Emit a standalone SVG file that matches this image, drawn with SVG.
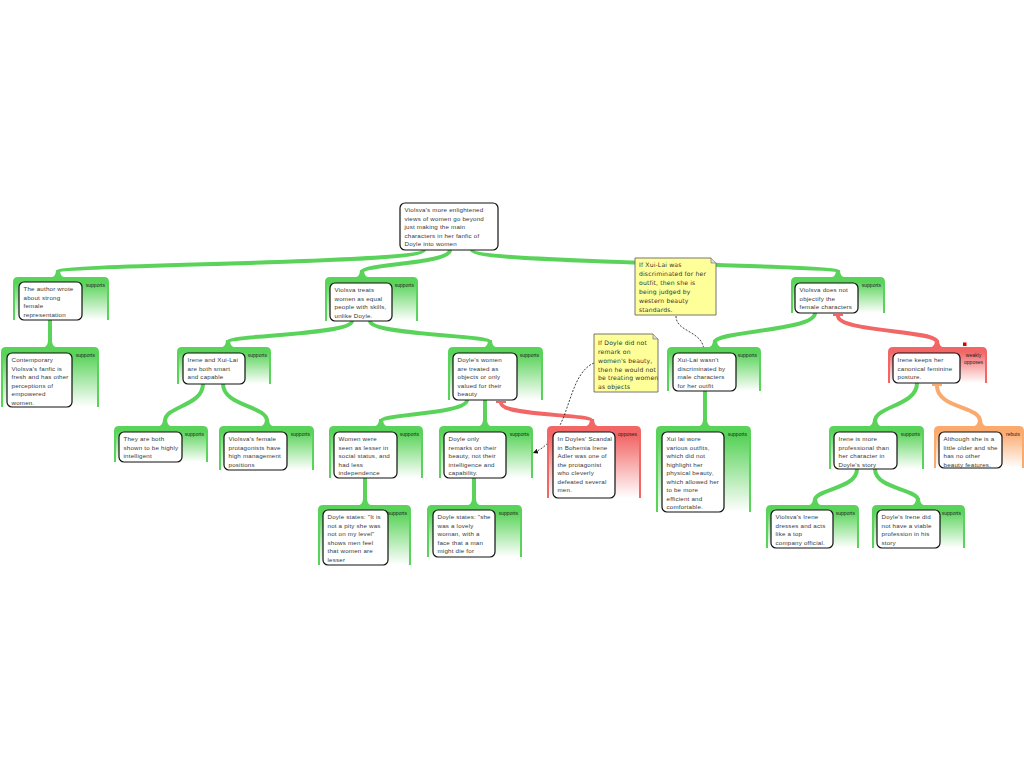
<svg xmlns="http://www.w3.org/2000/svg" width="1024" height="768" viewBox="0 0 1024 768">
<style>
.t{font-family:'Liberation Sans',Arial,sans-serif;font-size:6.2px;fill:#383838;letter-spacing:0.2px}
.nt{font-family:'DejaVu Sans',sans-serif;font-size:6.1px;fill:#333;letter-spacing:0.15px}
.lbl{font-family:'Liberation Sans',Arial,sans-serif;font-size:5px;fill:#222;text-anchor:end}
.box{fill:#fff;stroke:#111;stroke-width:1.2}
.pg{fill:url(#gG);stroke:#5ad35a;stroke-width:2}
.pr{fill:url(#gR);stroke:#f26666;stroke-width:2}
.po{fill:url(#gO);stroke:#fbaa6e;stroke-width:2}
.cg{fill:none;stroke:#5ad35a;stroke-width:4}
.cr{fill:none;stroke:#f26666;stroke-width:4}
.co{fill:none;stroke:#fbaa6e;stroke-width:4}
.fg{fill:#5ad35a}.fr{fill:#f26666}.fo{fill:#fbaa6e}
.tbr{stroke:#f26666;stroke-width:2}.tbo{stroke:#fbaa6e;stroke-width:2}
.dash{fill:none;stroke:#111;stroke-width:0.8;stroke-dasharray:2,1.5}
.note{fill:#ffff99;stroke:#666;stroke-width:0.9}
</style>
<defs>
<linearGradient id="gG" x1="0" y1="0" x2="0" y2="1"><stop offset="0" stop-color="#5ad35a"/><stop offset="0.12" stop-color="#5ad35a"/><stop offset="1" stop-color="#fff"/></linearGradient>
<linearGradient id="gR" x1="0" y1="0" x2="0" y2="1"><stop offset="0" stop-color="#f26666"/><stop offset="0.12" stop-color="#f26666"/><stop offset="1" stop-color="#fff"/></linearGradient>
<linearGradient id="gO" x1="0" y1="0" x2="0" y2="1"><stop offset="0" stop-color="#fbaa6e"/><stop offset="0.12" stop-color="#fbaa6e"/><stop offset="1" stop-color="#fff"/></linearGradient>
<marker id="arr" viewBox="0 0 6 6" refX="6" refY="3" markerWidth="5" markerHeight="5" markerUnits="userSpaceOnUse" orient="auto"><path d="M0,0 L6,3 L0,6 z" fill="#111"/></marker>
</defs>
<rect width="1024" height="768" fill="#fff"/>

<g id="connectors">
<path class="cg" d="M424,250 C424,264 58,264 58,272"/><path class="fg" d="M47,278 C54,278 56,275 56,270 L60,270 C60,275 62,278 69,278 Z"/>
<path class="cg" d="M450,250 C450,264 362,264 362,272"/><path class="fg" d="M351,278 C358,278 360,275 360,270 L364,270 C364,275 366,278 373,278 Z"/>
<path class="cg" d="M472,250 C472,264 838,264 838,272"/><path class="fg" d="M827,278 C834,278 836,275 836,270 L840,270 C840,275 842,278 849,278 Z"/>
<path class="cg" d="M50,320 L50,344"/><path class="fg" d="M39,348 C46,348 48,345 48,340 L52,340 C52,345 54,348 61,348 Z"/>
<path class="cg" d="M352,321 C352,335 228,335 228,342"/><path class="fg" d="M217,348 C224,348 226,345 226,340 L230,340 C230,345 232,348 239,348 Z"/>
<path class="cg" d="M370,321 C370,335 490,335 490,342"/><path class="fg" d="M479,348 C486,348 488,345 488,340 L492,340 C492,345 494,348 501,348 Z"/>
<path class="cg" d="M203,384 C203,406 165,406 165,421"/><path class="fg" d="M154,427 C161,427 163,424 163,419 L167,419 C167,424 169,427 176,427 Z"/>
<path class="cg" d="M223,384 C223,406 267,406 267,421"/><path class="fg" d="M256,427 C263,427 265,424 265,419 L269,419 C269,424 271,427 278,427 Z"/>
<path class="cg" d="M467,400 C467,414 381,414 381,421"/><path class="fg" d="M370,427 C377,427 379,424 379,419 L383,419 C383,424 385,427 392,427 Z"/>
<path class="cg" d="M485,400 L485,423"/><path class="fg" d="M474,427 C481,427 483,424 483,419 L487,419 C487,424 489,427 496,427 Z"/>
<line class="tbr" x1="496" y1="402" x2="506" y2="402"/>
<path class="cr" d="M501,403 C501,416 592,414 592,421"/><path class="fr" d="M581,427 C588,427 590,424 590,419 L594,419 C594,424 596,427 603,427 Z"/>
<path class="cg" d="M365,478 L365,502"/><path class="fg" d="M354,506 C361,506 363,503 363,498 L367,498 C367,503 369,506 376,506 Z"/>
<path class="cg" d="M474,478 L474,502"/><path class="fg" d="M463,506 C470,506 472,503 472,498 L476,498 C476,503 478,506 485,506 Z"/>
<path class="cg" d="M815,313 C815,331 715,331 715,342"/><path class="fg" d="M704,348 C711,348 713,345 713,340 L717,340 C717,345 719,348 726,348 Z"/>
<line class="tbr" x1="833" y1="315" x2="843" y2="315"/>
<path class="cr" d="M838,316 C838,332 937,330 937,342"/><path class="fr" d="M926,348 C933,348 935,345 935,340 L939,340 C939,345 941,348 948,348 Z"/>
<path class="cg" d="M705,391 L705,423"/><path class="fg" d="M694,427 C701,427 703,424 703,419 L707,419 C707,424 709,427 716,427 Z"/>
<path class="cg" d="M917,383 C917,406 875,406 875,421"/><path class="fg" d="M864,427 C871,427 873,424 873,419 L877,419 C877,424 879,427 886,427 Z"/>
<line class="tbo" x1="932" y1="385" x2="942" y2="385"/>
<path class="co" d="M937,386 C937,408 980,406 980,421"/><path class="fo" d="M969,427 C976,427 978,424 978,419 L982,419 C982,424 984,427 991,427 Z"/>
<path class="cg" d="M857,469 C857,489 815,489 815,500"/><path class="fg" d="M804,506 C811,506 813,503 813,498 L817,498 C817,503 819,506 826,506 Z"/>
<path class="cg" d="M875,469 C875,489 918,489 918,500"/><path class="fg" d="M907,506 C914,506 916,503 916,498 L920,498 C920,503 922,506 929,506 Z"/>
<path class="dash" d="M676,316 C676,333 704,330 704,352" marker-end="url(#arr)"/>
<path class="dash" d="M594,363 C572,372 570,412 556,432 C550,442 543,449 533,453" marker-end="url(#arr)"/>
</g>

<g id="n_root">
<rect class="box" x="400" y="203" width="98" height="47" rx="5"/>
<text class="t" x="404.5" y="212.2">Violsva's more enlightened</text>
<text class="t" x="404.5" y="220.7">views of women go beyond</text>
<text class="t" x="404.5" y="229.2">just making the main</text>
<text class="t" x="404.5" y="237.7">characters in her fanfic of</text>
<text class="t" x="404.5" y="246.2">Doyle into women</text>
</g>

<g id="n_author">
<path class="pg" d="M14,320 V282 Q14,278 18,278 H104 Q108,278 108,282 V320"/>
<text class="lbl" x="105" y="287">supports</text>
<rect class="box" x="19" y="282" width="63" height="38" rx="5"/>
<text class="t" x="23.5" y="291.2">The author wrote</text>
<text class="t" x="23.5" y="299.7">about strong</text>
<text class="t" x="23.5" y="308.2">female</text>
<text class="t" x="23.5" y="316.7">representation</text>
</g>

<g id="n_contemp">
<path class="pg" d="M2,407 V352 Q2,348 6,348 H94 Q98,348 98,352 V407"/>
<text class="lbl" x="95" y="357">supports</text>
<rect class="box" x="7" y="353" width="65" height="54" rx="5"/>
<text class="t" x="11.5" y="362.2">Contemporary</text>
<text class="t" x="11.5" y="370.7">Violsva's fanfic is</text>
<text class="t" x="11.5" y="379.2">fresh and has other</text>
<text class="t" x="11.5" y="387.7">perceptions of</text>
<text class="t" x="11.5" y="396.2">empowered</text>
<text class="t" x="11.5" y="404.7">women.</text>
</g>

<g id="n_treats">
<path class="pg" d="M326,321 V282 Q326,278 330,278 H413 Q417,278 417,282 V321"/>
<text class="lbl" x="414" y="287">supports</text>
<rect class="box" x="330" y="283" width="62" height="38" rx="5"/>
<text class="t" x="334.5" y="292.2">Violsva treats</text>
<text class="t" x="334.5" y="300.7">women as equal</text>
<text class="t" x="334.5" y="309.2">people with skills,</text>
<text class="t" x="334.5" y="317.7">unlike Doyle.</text>
</g>

<g id="n_irene_xui">
<path class="pg" d="M178,384 V352 Q178,348 182,348 H266 Q270,348 270,352 V384"/>
<text class="lbl" x="267" y="357">supports</text>
<rect class="box" x="183" y="353" width="62" height="31" rx="5"/>
<text class="t" x="187.5" y="362.2">Irene and Xui-Lai</text>
<text class="t" x="187.5" y="370.7">are both smart</text>
<text class="t" x="187.5" y="379.2">and capable</text>
</g>

<g id="n_both">
<path class="pg" d="M115,462 V431 Q115,427 119,427 H203 Q207,427 207,431 V462"/>
<text class="lbl" x="204" y="436">supports</text>
<rect class="box" x="119" y="432" width="63" height="30" rx="5"/>
<text class="t" x="123.5" y="441.2">They are both</text>
<text class="t" x="123.5" y="449.7">shown to be highly</text>
<text class="t" x="123.5" y="458.2">intelligent</text>
</g>

<g id="n_female">
<path class="pg" d="M220,470 V431 Q220,427 224,427 H309 Q313,427 313,431 V470"/>
<text class="lbl" x="310" y="436">supports</text>
<rect class="box" x="224" y="432" width="63" height="38" rx="5"/>
<text class="t" x="228.5" y="441.2">Violsva's female</text>
<text class="t" x="228.5" y="449.7">protagonists have</text>
<text class="t" x="228.5" y="458.2">high management</text>
<text class="t" x="228.5" y="466.7">positions</text>
</g>

<g id="n_doyle_women">
<path class="pg" d="M449,400 V352 Q449,348 453,348 H538 Q542,348 542,352 V400"/>
<text class="lbl" x="539" y="357">supports</text>
<rect class="box" x="453" y="353" width="64" height="47" rx="5"/>
<text class="t" x="457.5" y="362.2">Doyle's women</text>
<text class="t" x="457.5" y="370.7">are treated as</text>
<text class="t" x="457.5" y="379.2">objects or only</text>
<text class="t" x="457.5" y="387.7">valued for their</text>
<text class="t" x="457.5" y="396.2">beauty</text>
</g>

<g id="n_women_were">
<path class="pg" d="M330,478 V431 Q330,427 334,427 H418 Q422,427 422,431 V478"/>
<text class="lbl" x="419" y="436">supports</text>
<rect class="box" x="334" y="432" width="63" height="46" rx="5"/>
<text class="t" x="338.5" y="441.2">Women were</text>
<text class="t" x="338.5" y="449.7">seen as lesser in</text>
<text class="t" x="338.5" y="458.2">social status, and</text>
<text class="t" x="338.5" y="466.7">had less</text>
<text class="t" x="338.5" y="475.2">independence</text>
</g>

<g id="n_doyle_only">
<path class="pg" d="M440,478 V431 Q440,427 444,427 H528 Q532,427 532,431 V478"/>
<text class="lbl" x="529" y="436">supports</text>
<rect class="box" x="444" y="432" width="62" height="46" rx="5"/>
<text class="t" x="448.5" y="441.2">Doyle only</text>
<text class="t" x="448.5" y="449.7">remarks on their</text>
<text class="t" x="448.5" y="458.2">beauty, not their</text>
<text class="t" x="448.5" y="466.7">intelligence and</text>
<text class="t" x="448.5" y="475.2">capability.</text>
</g>

<g id="n_scandal">
<path class="pr" d="M548,498 V431 Q548,427 552,427 H636 Q640,427 640,431 V498"/>
<text class="lbl" x="637" y="436">opposes</text>
<rect class="box" x="553" y="432" width="62" height="66" rx="5"/>
<text class="t" x="557.5" y="441.2">In Doyles' Scandal</text>
<text class="t" x="557.5" y="449.7">in Bohemia Irene</text>
<text class="t" x="557.5" y="458.2">Adler was one of</text>
<text class="t" x="557.5" y="466.7">the protagonist</text>
<text class="t" x="557.5" y="475.2">who cleverly</text>
<text class="t" x="557.5" y="483.7">defeated several</text>
<text class="t" x="557.5" y="492.2">men.</text>
</g>

<g id="n_states1">
<path class="pg" d="M319,565 V510 Q319,506 323,506 H406 Q410,506 410,510 V565"/>
<text class="lbl" x="407" y="515">supports</text>
<rect class="box" x="323" y="510" width="65" height="55" rx="5"/>
<text class="t" x="327.5" y="519.2">Doyle states: "It is</text>
<text class="t" x="327.5" y="527.7">not a pity she was</text>
<text class="t" x="327.5" y="536.2">not on my level"</text>
<text class="t" x="327.5" y="544.7">shows men feel</text>
<text class="t" x="327.5" y="553.2">that women are</text>
<text class="t" x="327.5" y="561.7">lesser</text>
</g>

<g id="n_states2">
<path class="pg" d="M428,557 V510 Q428,506 432,506 H517 Q521,506 521,510 V557"/>
<text class="lbl" x="518" y="515">supports</text>
<rect class="box" x="433" y="510" width="62" height="47" rx="5"/>
<text class="t" x="437.5" y="519.2">Doyle states: "she</text>
<text class="t" x="437.5" y="527.7">was a lovely</text>
<text class="t" x="437.5" y="536.2">woman, with a</text>
<text class="t" x="437.5" y="544.7">face that a man</text>
<text class="t" x="437.5" y="553.2">might die for</text>
</g>

<g id="n_xui_wasnt">
<path class="pg" d="M668,391 V352 Q668,348 672,348 H756 Q760,348 760,352 V391"/>
<text class="lbl" x="757" y="357">supports</text>
<rect class="box" x="673" y="353" width="63" height="38" rx="5"/>
<text class="t" x="677.5" y="362.2">Xui-Lai wasn't</text>
<text class="t" x="677.5" y="370.7">discriminated by</text>
<text class="t" x="677.5" y="379.2">male characters</text>
<text class="t" x="677.5" y="387.7">for her outfit</text>
</g>

<g id="n_xui_wore">
<path class="pg" d="M657,512 V431 Q657,427 661,427 H746 Q750,427 750,431 V512"/>
<text class="lbl" x="747" y="436">supports</text>
<rect class="box" x="662" y="432" width="62" height="80" rx="5"/>
<text class="t" x="666.5" y="441.2">Xui lai wore</text>
<text class="t" x="666.5" y="449.7">various outfits,</text>
<text class="t" x="666.5" y="458.2">which did not</text>
<text class="t" x="666.5" y="466.7">highlight her</text>
<text class="t" x="666.5" y="475.2">physical beauty,</text>
<text class="t" x="666.5" y="483.7">which allowed her</text>
<text class="t" x="666.5" y="492.2">to be more</text>
<text class="t" x="666.5" y="500.7">efficient and</text>
<text class="t" x="666.5" y="509.2">comfortable.</text>
</g>

<g id="n_objectify">
<path class="pg" d="M792,313 V282 Q792,278 796,278 H880 Q884,278 884,282 V313"/>
<text class="lbl" x="881" y="287">supports</text>
<rect class="box" x="795" y="283" width="63" height="30" rx="5"/>
<text class="t" x="799.5" y="292.2">Violsva does not</text>
<text class="t" x="799.5" y="300.7">objectify the</text>
<text class="t" x="799.5" y="309.2">female characters</text>
</g>

<g id="n_irene_keeps">
<path class="pr" d="M889,383 V352 Q889,348 893,348 H982 Q986,348 986,352 V383"/>
<rect x="963" y="342.5" width="3.5" height="3.5" fill="#e00000"/>
<text class="lbl" x="973.5" y="357" style="text-anchor:middle">weakly</text>
<text class="lbl" x="973.5" y="363.5" style="text-anchor:middle">opposes</text>
<rect class="box" x="893" y="353" width="67" height="30" rx="5"/>
<text class="t" x="897.5" y="362.2">Irene keeps her</text>
<text class="t" x="897.5" y="370.7">canonical feminine</text>
<text class="t" x="897.5" y="379.2">posture.</text>
</g>

<g id="n_irene_more">
<path class="pg" d="M830,469 V431 Q830,427 834,427 H919 Q923,427 923,431 V469"/>
<text class="lbl" x="920" y="436">supports</text>
<rect class="box" x="834" y="432" width="63" height="37" rx="5"/>
<text class="t" x="838.5" y="441.2">Irene is more</text>
<text class="t" x="838.5" y="449.7">professional than</text>
<text class="t" x="838.5" y="458.2">her character in</text>
<text class="t" x="838.5" y="466.7">Doyle's story</text>
</g>

<g id="n_although">
<path class="po" d="M935,468 V431 Q935,427 939,427 H1019 Q1023,427 1023,431 V468"/>
<text class="lbl" x="1020" y="436">rebuts</text>
<rect class="box" x="939" y="432" width="63" height="36" rx="5"/>
<text class="t" x="943.5" y="441.2">Although she is a</text>
<text class="t" x="943.5" y="449.7">little older and she</text>
<text class="t" x="943.5" y="458.2">has no other</text>
<text class="t" x="943.5" y="466.7">beauty features.</text>
</g>

<g id="n_vios_irene">
<path class="pg" d="M767,548 V510 Q767,506 771,506 H854 Q858,506 858,510 V548"/>
<text class="lbl" x="855" y="515">supports</text>
<rect class="box" x="771" y="510" width="62" height="38" rx="5"/>
<text class="t" x="775.5" y="519.2">Violsva's Irene</text>
<text class="t" x="775.5" y="527.7">dresses and acts</text>
<text class="t" x="775.5" y="536.2">like a top</text>
<text class="t" x="775.5" y="544.7">company official.</text>
</g>

<g id="n_doyle_irene">
<path class="pg" d="M873,548 V510 Q873,506 877,506 H960 Q964,506 964,510 V548"/>
<text class="lbl" x="961" y="515">supports</text>
<rect class="box" x="877" y="510" width="63" height="38" rx="5"/>
<text class="t" x="881.5" y="519.2">Doyle's Irene did</text>
<text class="t" x="881.5" y="527.7">not have a viable</text>
<text class="t" x="881.5" y="536.2">profession in his</text>
<text class="t" x="881.5" y="544.7">story</text>
</g>

<g id="note1">
<path class="note" d="M635,258 H711 L716,263 V315 H635 Z"/>
<path d="M711,258 V263 H716" fill="#ddd" stroke="#666" stroke-width="0.6"/>
<text class="nt" x="639" y="267.3">If Xui-Lai was</text>
<text class="nt" x="639" y="276.2">discriminated for her</text>
<text class="nt" x="639" y="285.1">outfit, then she is</text>
<text class="nt" x="639" y="294">being judged by</text>
<text class="nt" x="639" y="302.9">western beauty</text>
<text class="nt" x="639" y="311.8">standards.</text>
</g>

<g id="note2">
<path class="note" d="M594,334 H653 L658,339 V392 H594 Z"/>
<path d="M653,334 V339 H658" fill="#ddd" stroke="#666" stroke-width="0.6"/>
<text class="nt" x="598" y="344.8">If Doyle did not</text>
<text class="nt" x="598" y="353.7">remark on</text>
<text class="nt" x="598" y="362.6">women's beauty,</text>
<text class="nt" x="598" y="371.5">then he would not</text>
<text class="nt" x="598" y="380.4">be treating women</text>
<text class="nt" x="598" y="389.3">as objects</text>
</g>
</svg>
